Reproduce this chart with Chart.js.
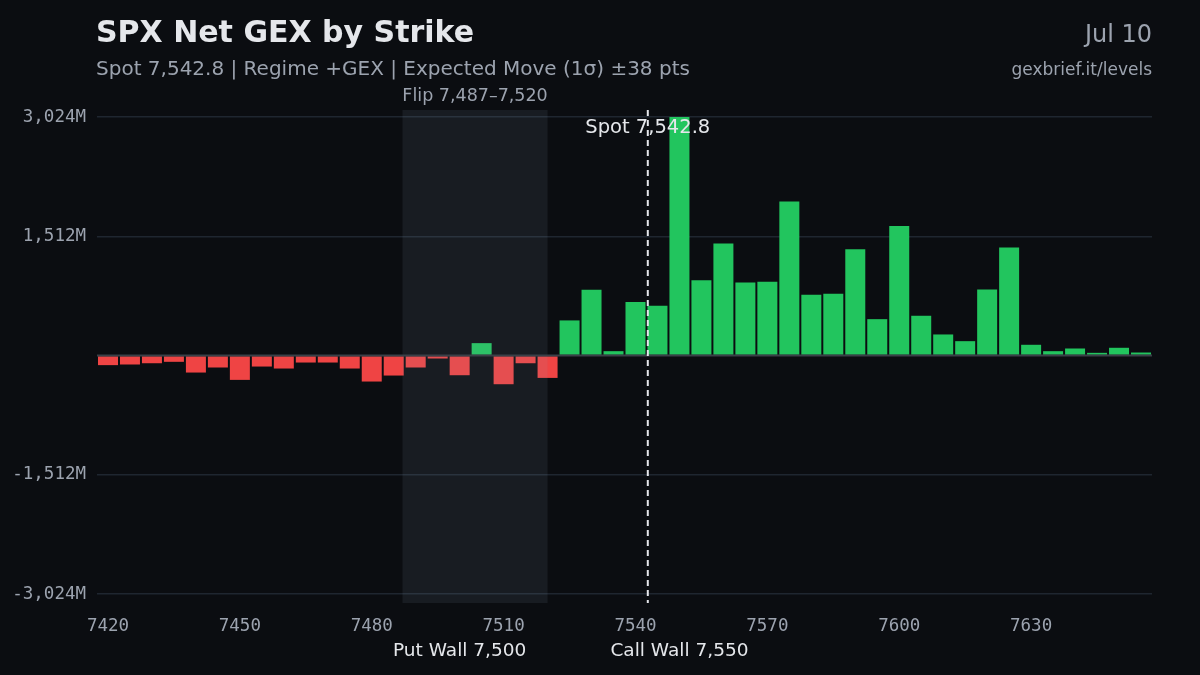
<!DOCTYPE html>
<html>
<head>
<meta charset="utf-8">
<script src="https://cdn.jsdelivr.net/npm/chart.js@4"></script>
<style>
  html, body { margin: 0; padding: 0; background: #0b0d11; }
  #wrap { width: 1200px; height: 675px; }
</style>
</head>
<body>
<div id="wrap"><canvas id="gexChart" width="1200" height="675"></canvas></div>
<script>
// strikes and net GEX (millions)
const strikes = [7420, 7425, 7430, 7435, 7440, 7445, 7450, 7455, 7460, 7465, 7470, 7475,
                 7480, 7485, 7490, 7495, 7500, 7505, 7510, 7515, 7520, 7525, 7530, 7535,
                 7540, 7545, 7550, 7555, 7560, 7565, 7570, 7575, 7580, 7585, 7590, 7595,
                 7600, 7605, 7610, 7615, 7620, 7625, 7630, 7635, 7640, 7645, 7650, 7655];
const netGex = [-122, -114, -98, -80, -216, -152, -309, -140, -165, -89, -89, -165,
                -330, -254, -152, -38, -250, 157, -364, -98, -284, 445, 835, 55,
                677, 631, 3024, 953, 1419, 927, 936, 1952, 771, 783, 1346, 461,
                1642, 504, 267, 182, 838, 1368, 136, 55, 89, 34, 98, 38];
const xTicks = [7420, 7450, 7480, 7510, 7540, 7570, 7600, 7630];
const yTicks = [-3024, -1512, 0, 1512, 3024];

const spot = 7542.8;
const flipZone = [7487, 7520];
const putWall = 7500;
const callWall = 7550;

const SANS = "'DejaVu Sans', sans-serif";
const MONO = "'DejaVu Sans Mono', monospace";

const overlay = {
    id: 'overlay',
    beforeDraw(chart) {
        const c = chart.ctx;
        c.save();
        c.fillStyle = '#0b0d11';
        c.fillRect(0, 0, chart.width, chart.height);
        c.restore();
    },
    afterDatasetsDraw(chart) {
        const c = chart.ctx;
        const x = chart.scales.x, y = chart.scales.y;
        const area = chart.chartArea;
        c.save();

        // flip zone shading, sits over the bars
        const x0 = x.getPixelForValue(flipZone[0]), x1 = x.getPixelForValue(flipZone[1]);
        c.fillStyle = 'rgba(148,163,184,0.10)';
        c.fillRect(x0, area.top, x1 - x0, area.bottom - area.top);

        // zero line
        const y0 = y.getPixelForValue(0);
        c.strokeStyle = '#3b4048';
        c.lineWidth = 2;
        c.beginPath();
        c.moveTo(area.left, y0);
        c.lineTo(area.right, y0);
        c.stroke();

        // spot line
        const xs = x.getPixelForValue(spot);
        c.strokeStyle = '#e5e7eb';
        c.lineWidth = 2;
        c.setLineDash([6, 4]);
        c.beginPath();
        c.moveTo(xs, area.top);
        c.lineTo(xs, area.bottom);
        c.stroke();
        c.setLineDash([]);

        c.textAlign = 'center';
        c.textBaseline = 'middle';
        c.fillStyle = '#e5e7eb';
        c.font = '19.5px ' + SANS;
        c.fillText('Spot 7,542.8', xs, 128);

        c.fillStyle = '#9ca3af';
        c.font = '17.5px ' + SANS;
        c.fillText('Flip 7,487\u20137,520', (x0 + x1) / 2, 96);

        c.fillStyle = '#e5e7eb';
        c.font = '18.5px ' + SANS;
        c.fillText('Put Wall 7,500', x.getPixelForValue(putWall), 651);
        c.fillText('Call Wall 7,550', x.getPixelForValue(callWall), 651);
        c.restore();
    },
    afterDraw(chart) {
        const c = chart.ctx;
        c.save();
        c.textBaseline = 'middle';
        c.textAlign = 'left';
        c.fillStyle = '#e5e7eb';
        c.font = 'bold 30px ' + SANS;
        c.fillText('SPX Net GEX by Strike', 96, 34);
        c.fillStyle = '#9ca3af';
        c.font = '20px ' + SANS;
        c.fillText('Spot 7,542.8 | Regime +GEX | Expected Move (1\u03c3) \u00b138 pts', 96, 70);

        c.textAlign = 'right';
        c.font = '24px ' + SANS;
        c.fillText('Jul 10', 1152, 36);
        c.font = '17px ' + SANS;
        c.fillText('gexbrief.it/levels', 1152, 71);
        c.restore();
    }
};

const data = {
    datasets: [{
        label: 'Net GEX',
        data: strikes.map((s, i) => ({ x: s, y: netGex[i] })),
        backgroundColor: netGex.map(v => v >= 0 ? '#22c55e' : '#ef4444'),
        borderWidth: 0,
        categoryPercentage: 1,
        barPercentage: 0.91
    }]
};

const config = {
    type: 'bar',
    data: data,
    options: {
        responsive: false,
        animation: false,
        layout: { padding: { top: 110, right: 48, bottom: 0, left: 0 } },
        plugins: {
            legend: { display: false },
            tooltip: { enabled: false }
        },
        scales: {
            x: {
                type: 'linear',
                offset: false,
                min: 7417.5,
                max: 7657.5,
                afterBuildTicks: (s) => { s.ticks = xTicks.map(v => ({ value: v })); },
                afterFit: (s) => { s.height = 72; },
                grid: { display: false, drawTicks: false, offset: false },
                border: { display: false },
                ticks: {
                    padding: 13,
                    color: '#9ca3af',
                    font: { family: MONO, size: 17.5 },
                    maxRotation: 0,
                    callback: (v) => String(v)
                }
            },
            y: {
                min: -3138,
                max: 3113,
                afterBuildTicks: (s) => { s.ticks = yTicks.map(v => ({ value: v })); },
                afterFit: (s) => { s.width = 97; },
                grid: {
                    drawTicks: false,
                    color: (ctx) => ctx.tick && ctx.tick.value === 0 ? 'rgba(0,0,0,0)' : '#1f2630',
                    lineWidth: 1.5
                },
                border: { display: false },
                ticks: {
                    padding: 11,
                    color: '#9ca3af',
                    font: { family: MONO, size: 17.5 },
                    callback: (v) => v === 0 ? '' : v.toLocaleString('en-US') + 'M'
                }
            }
        }
    },
    plugins: [overlay]
};

new Chart(document.getElementById('gexChart'), config);
</script>
</body>
</html>
